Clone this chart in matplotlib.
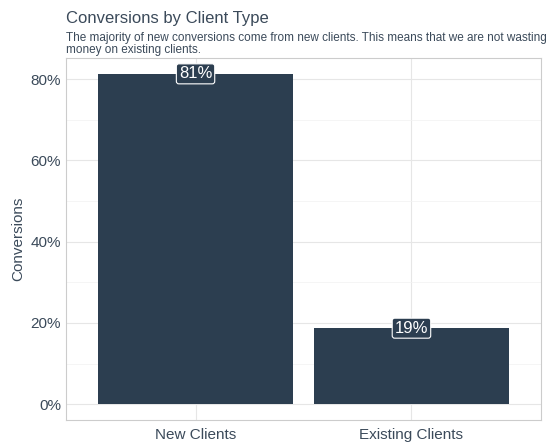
import matplotlib.pyplot as plt
import numpy as np

plt.rcParams["font.family"] = ["Liberation Sans", "DejaVu Sans"]

categories = ["New Clients", "Existing Clients"]
shares = [81.3, 18.7]
labels = ["81%", "19%"]

bar_color = "#2C3E50"
text_color = "#3B4A5A"

fig = plt.figure(figsize=(5.51, 4.47), dpi=100)
ax = fig.add_axes([66 / 551, 27 / 447, 475 / 551, 362 / 447])

x = np.arange(1, len(categories) + 1)
ax.bar(x, shares, width=0.9, color=bar_color, zorder=2)
for xi, v, lab in zip(x, shares, labels):
    ax.text(xi, v, lab, ha="center", va="center", color="white", fontsize=12,
            zorder=3,
            bbox=dict(boxstyle="round,pad=0.15", fc=bar_color, ec="white", lw=0.8))

ax.set_xlim(0.4, 2.6)
ax.set_ylim(-3.9, 85.2)
ax.set_xticks(x)
ax.set_xticklabels(categories)
ax.set_yticks([0, 20, 40, 60, 80])
ax.set_yticklabels(["0%", "20%", "40%", "60%", "80%"])
ax.set_yticks([10, 30, 50, 70], minor=True)
ax.grid(True, which="major", color="#E6E6E6", lw=0.8, zorder=0)
ax.grid(True, which="minor", axis="y", color="#F2F2F2", lw=0.5, zorder=0)
ax.tick_params(axis="both", which="both", length=0, labelsize=11, colors=text_color)
ax.tick_params(axis="x", pad=6)
for s in ax.spines.values():
    s.set_color("#CCCCCC")
    s.set_linewidth(0.8)
ax.set_ylabel("Conversions", color=text_color, fontsize=11)

fig.text(66 / 551, 1 - 18 / 447, "Conversions by Client Type", fontsize=12,
         color=text_color, va="center")
fig.text(66 / 551, 1 - 32 / 447,
         "The majority of new conversions come from new clients. This means that we are not wasting\nmoney on existing clients.",
         fontsize=8.5, color=text_color, va="top", linespacing=0.95)

fig.savefig("out.png", dpi=100)
